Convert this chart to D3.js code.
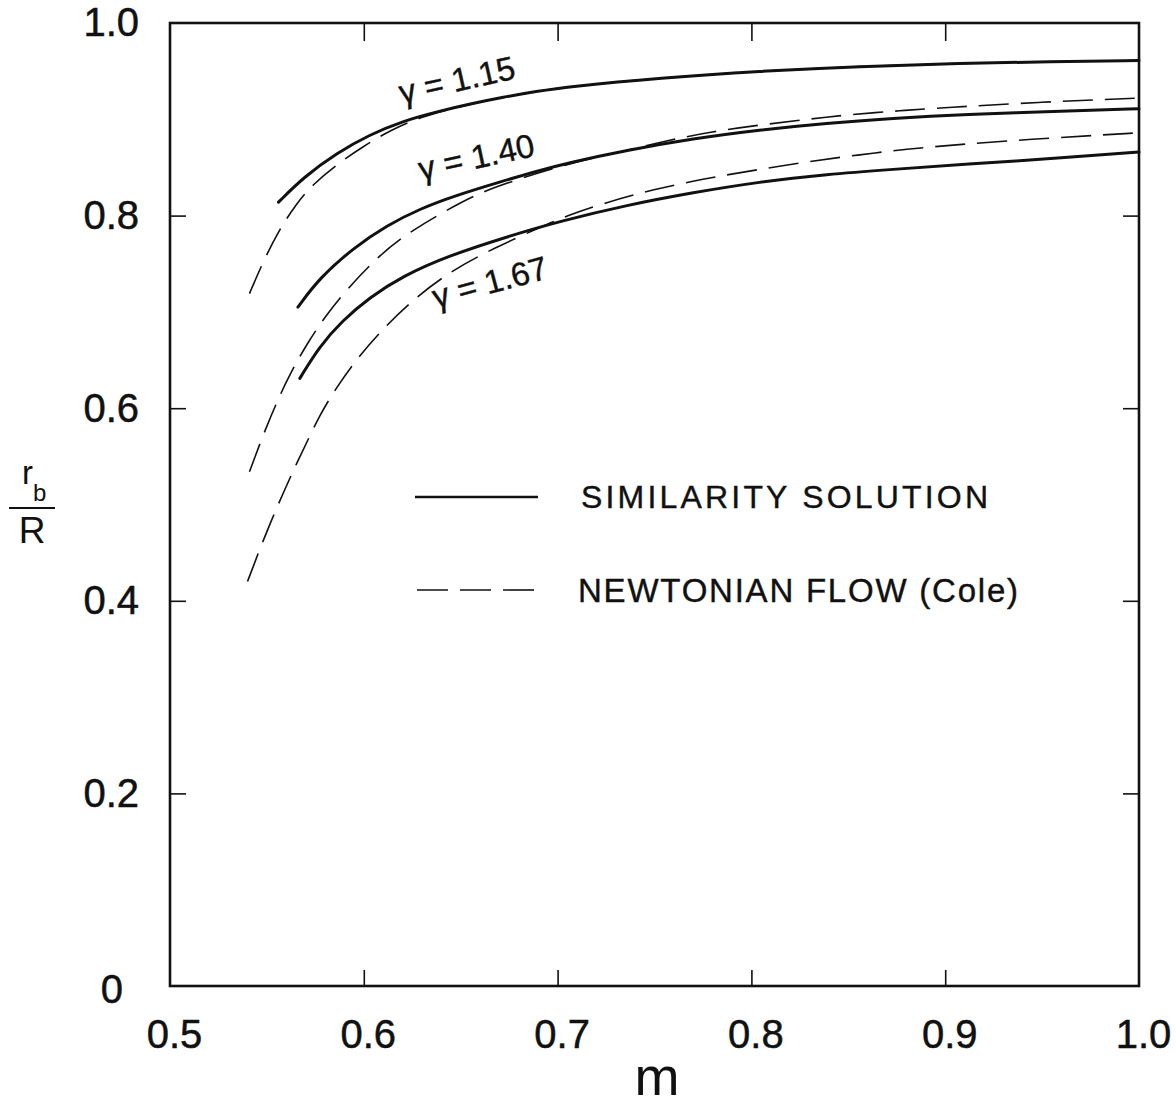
<!DOCTYPE html>
<html>
<head>
<meta charset="utf-8">
<script src="https://cdn.jsdelivr.net/npm/d3@7"></script>
<style>
  html, body { margin: 0; padding: 0; background: #fff; }
  svg { display: block; }
  text { font-family: "Liberation Sans", Arial, sans-serif; fill: #111; }
</style>
</head>
<body>
<svg id="chart" width="1176" height="1106"></svg>
<script>
// Shock standoff ratio r_b/R versus m, similarity solution vs. Newtonian flow (Cole)

// x-axis ticks (m) and y-axis ticks (r_b / R)
const xTicks = [0.5, 0.6, 0.7, 0.8, 0.9, 1.0];
const yTicks = [0, 0.2, 0.4, 0.6, 0.8, 1.0];
const xInnerTicks = [0.6, 0.7, 0.8, 0.9];
const yInnerTicks = [0.2, 0.4, 0.6, 0.8];

// Similarity solution, [m, r_b/R]
const similarity115 = [
  [0.556, 0.814], [0.569, 0.840], [0.586, 0.865], [0.603, 0.884], [0.620, 0.898],
  [0.638, 0.908], [0.655, 0.916], [0.672, 0.923], [0.689, 0.929], [0.706, 0.934],
  [0.753, 0.943], [0.804, 0.950], [0.856, 0.955], [0.908, 0.958], [0.954, 0.960], [1.000, 0.961]
];
const similarity140 = [
  [0.566, 0.705], [0.577, 0.735], [0.595, 0.767], [0.612, 0.790], [0.629, 0.807],
  [0.646, 0.820], [0.672, 0.836], [0.689, 0.846], [0.706, 0.855], [0.736, 0.868],
  [0.770, 0.880], [0.804, 0.889], [0.839, 0.896], [0.873, 0.901], [0.908, 0.905],
  [0.968, 0.909], [1.000, 0.911]
];
const similarity167 = [
  [0.567, 0.631], [0.577, 0.664], [0.589, 0.691], [0.603, 0.715], [0.620, 0.737],
  [0.643, 0.758], [0.677, 0.780], [0.701, 0.794], [0.736, 0.811], [0.770, 0.824],
  [0.804, 0.835], [0.839, 0.843], [0.873, 0.848], [0.908, 0.853], [0.968, 0.861], [1.000, 0.866]
];

// Newtonian flow (Cole), [m, r_b/R]; the γ = 1.15 curve runs onto the similarity curve
const newtonian115 = [
  [0.541, 0.719], [0.548, 0.752], [0.556, 0.784], [0.565, 0.812], [0.574, 0.833],
  [0.586, 0.853], [0.599, 0.871], [0.614, 0.889], [0.630, 0.903], [0.655, 0.916],
  [0.672, 0.923], [0.689, 0.929], [0.706, 0.934], [0.753, 0.943], [0.804, 0.950],
  [0.856, 0.955], [0.908, 0.958], [0.954, 0.960], [1.000, 0.961]
];
const newtonian140 = [
  [0.541, 0.534], [0.548, 0.572], [0.555, 0.606], [0.562, 0.636], [0.571, 0.668],
  [0.580, 0.695], [0.591, 0.723], [0.608, 0.759], [0.624, 0.784], [0.651, 0.815],
  [0.665, 0.828], [0.701, 0.852], [0.732, 0.866], [0.759, 0.879], [0.779, 0.887],
  [0.804, 0.894], [0.829, 0.900], [0.851, 0.905], [0.877, 0.909], [0.899, 0.912],
  [0.950, 0.918], [1.000, 0.922]
];
const newtonian167 = [
  [0.540, 0.420], [0.546, 0.452], [0.552, 0.482], [0.558, 0.510], [0.564, 0.537],
  [0.570, 0.562], [0.577, 0.592], [0.586, 0.622], [0.596, 0.650], [0.607, 0.676],
  [0.623, 0.709], [0.645, 0.743], [0.668, 0.767], [0.690, 0.787], [0.705, 0.800],
  [0.724, 0.813], [0.749, 0.827], [0.775, 0.838], [0.801, 0.847], [0.829, 0.856],
  [0.855, 0.863], [0.880, 0.869], [0.907, 0.874], [0.957, 0.881], [1.000, 0.886]
];

const solidSeries = [similarity115, similarity140, similarity167];
const dashedSeries = [newtonian115, newtonian140, newtonian167];

// Curve labels: text, anchor point [m, r_b/R], rotation
const gammaLabels = ["\u03B3 = 1.15", "\u03B3 = 1.40", "\u03B3 = 1.67"];
const gammaAnchors = [[0.648, 0.941], [0.658, 0.861], [0.665, 0.731]];
const gammaAngles = [-12.5, -12, -15];

const legendLabels = ["SIMILARITY SOLUTION", "NEWTONIAN FLOW (Cole)"];

const svg = d3.select("#chart");
const x = d3.scaleLinear().domain([0.5, 1.0]).range([170, 1139]);
const y = d3.scaleLinear().domain([0, 1]).range([986, 23]);

const ink = "#111";
const tick = 16;

// frame
svg.append("rect")
  .attr("x", x(0.5)).attr("y", y(1))
  .attr("width", x(1.0) - x(0.5)).attr("height", y(0) - y(1))
  .attr("fill", "none").attr("stroke", ink).attr("stroke-width", 2.6);

// bottom axis with labels
const fmtX = d => d3.format(".1f")(d);
const gBottom = svg.append("g").attr("transform", `translate(0,${y(0)})`)
  .call(d3.axisBottom(x).tickValues(xTicks).tickSize(0).tickPadding(34).tickFormat(fmtX));
gBottom.select(".domain").remove();
gBottom.selectAll("text").attr("font-size", 40).attr("dx", 4)
  .style("font-family", "Liberation Sans, Arial, sans-serif").attr("fill", ink)
  .attr("stroke", ink).attr("stroke-width", 0.5);
gBottom.selectAll(".tick").filter(d => xInnerTicks.includes(d)).append("line")
  .attr("y1", 0).attr("y2", -tick).attr("stroke", ink).attr("stroke-width", 1.6);

// top ticks
const gTop = svg.append("g").attr("transform", `translate(0,${y(1)})`)
  .call(d3.axisTop(x).tickValues(xInnerTicks).tickSize(-tick - 2).tickFormat(""));
gTop.select(".domain").remove();
gTop.selectAll("line").attr("stroke", ink).attr("stroke-width", 1.6);

// left axis with labels
const fmtY = d => d === 0 ? "0" : d3.format(".1f")(d);
const gLeft = svg.append("g").attr("transform", `translate(${x(0.5)},0)`)
  .call(d3.axisLeft(y).tickValues(yTicks).tickSize(0).tickPadding(31).tickFormat(fmtY));
gLeft.select(".domain").remove();
gLeft.selectAll("text").attr("font-size", 40)
  .style("font-family", "Liberation Sans, Arial, sans-serif").attr("fill", ink)
  .attr("stroke", ink).attr("stroke-width", 0.5);
gLeft.selectAll("text").filter(d => d === 0).attr("dx", -16).attr("dy", "0.42em");
gLeft.selectAll(".tick").filter(d => yInnerTicks.includes(d)).append("line")
  .attr("x1", 0).attr("x2", tick).attr("stroke", ink).attr("stroke-width", 1.6);

// right ticks
const gRight = svg.append("g").attr("transform", `translate(${x(1.0)},0)`)
  .call(d3.axisRight(y).tickValues(yInnerTicks).tickSize(-tick).tickFormat(""));
gRight.select(".domain").remove();
gRight.selectAll("line").attr("stroke", ink).attr("stroke-width", 1.6);

// axis titles
svg.append("text").attr("x", 657).attr("y", 1095).attr("text-anchor", "middle")
  .attr("font-size", 54).text("m");

const yl = svg.append("g");
yl.append("text").attr("x", 22).attr("y", 484).attr("font-size", 33).text("r");
yl.append("text").attr("x", 33).attr("y", 501).attr("font-size", 24).text("b");
yl.append("line").attr("x1", 9).attr("x2", 55).attr("y1", 508).attr("y2", 508)
  .attr("stroke", ink).attr("stroke-width", 2.2);
yl.append("text").attr("x", 32).attr("y", 543).attr("text-anchor", "middle")
  .attr("font-size", 37).text("R");

// curves
const line = d3.line().x(d => x(d[0])).y(d => y(d[1])).curve(d3.curveBasis);

svg.append("g").selectAll("path").data(dashedSeries).join("path")
  .attr("d", line).attr("fill", "none").attr("stroke", ink)
  .attr("stroke-width", 1.6).attr("stroke-dasharray", "30,12");

svg.append("g").selectAll("path").data(solidSeries).join("path")
  .attr("d", line).attr("fill", "none").attr("stroke", ink)
  .attr("stroke-width", 3).attr("stroke-linecap", "round");

// gamma labels
svg.append("g").selectAll("text").data(gammaLabels).join("text")
  .attr("transform", (d, i) => `translate(${x(gammaAnchors[i][0])},${y(gammaAnchors[i][1])}) rotate(${gammaAngles[i]})`)
  .attr("text-anchor", "middle").attr("dy", "0.35em")
  .attr("font-size", 33).attr("textLength", 118).attr("lengthAdjust", "spacing")
  .attr("stroke", ink).attr("stroke-width", 0.4)
  .text(d => d);

// legend
const lg = svg.append("g");
lg.append("line").attr("x1", 415).attr("x2", 538).attr("y1", 497).attr("y2", 497)
  .attr("stroke", ink).attr("stroke-width", 2.4);
lg.append("line").attr("x1", 417).attr("x2", 542).attr("y1", 590).attr("y2", 590)
  .attr("stroke", ink).attr("stroke-width", 1.6).attr("stroke-dasharray", "31,12");
lg.append("text").attr("x", 581).attr("y", 508).attr("font-size", 32)
  .attr("stroke", ink).attr("stroke-width", 0.4)
  .attr("textLength", 407).attr("lengthAdjust", "spacing").text(legendLabels[0]);
lg.append("text").attr("x", 578).attr("y", 602).attr("font-size", 33)
  .attr("stroke", ink).attr("stroke-width", 0.4)
  .attr("textLength", 440).attr("lengthAdjust", "spacing").text(legendLabels[1]);
</script>
</body>
</html>
